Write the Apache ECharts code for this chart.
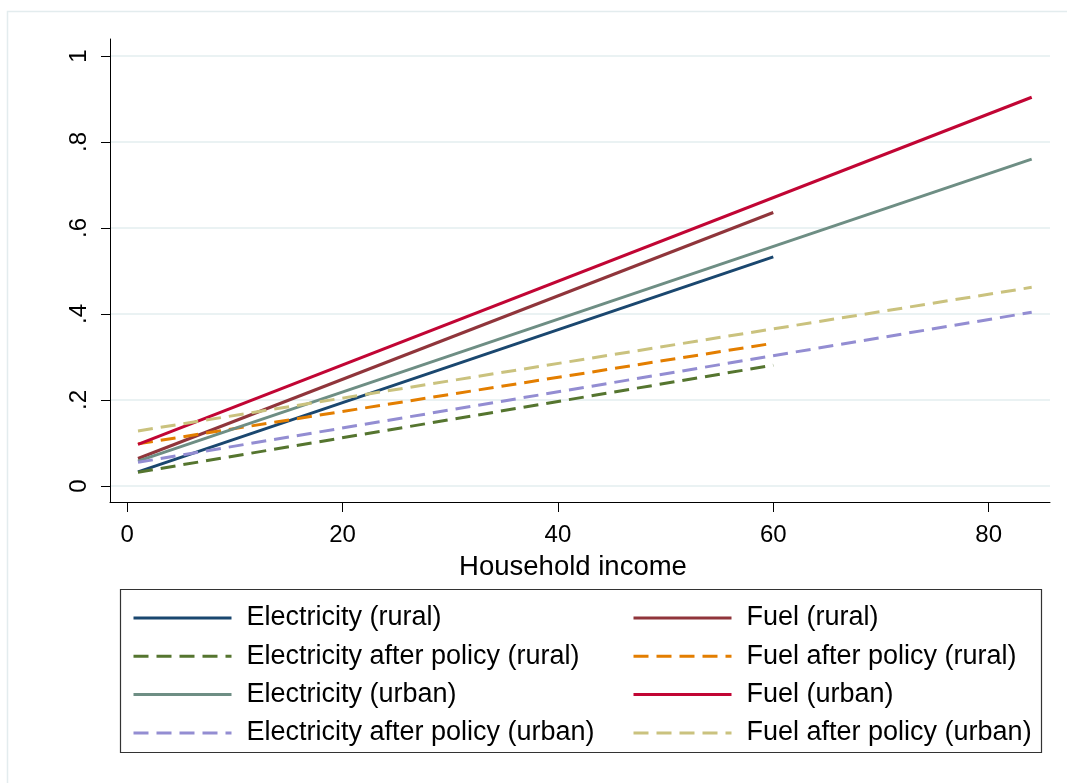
<!DOCTYPE html>
<html>
<head>
<meta charset="utf-8">
<script src="https://cdn.jsdelivr.net/npm/echarts@6/dist/echarts.min.js"></script>
<style>
  html, body { margin: 0; padding: 0; background: #ffffff; }
  #chart { width: 1067px; height: 783px; }
</style>
</head>
<body>
<div id="chart"></div>
<script>
// Predicted shares by household income; each line is a straight fit between its end points.
const incomeRural = [1, 60];
const incomeUrban = [1, 84];

const elecRural = [0.033, 0.533];
const elecPolicyRural = [0.032, 0.281];
const elecUrban = [0.058, 0.760];
const elecPolicyUrban = [0.055, 0.404];
const fuelRural = [0.064, 0.636];
const fuelPolicyRural = [0.098, 0.332];
const fuelUrban = [0.097, 0.904];
const fuelPolicyUrban = [0.128, 0.462];

const xTickValues = [0, 20, 40, 60, 80];
const xTickLabels = ['0', '20', '40', '60', '80'];
const yTickValues = [0, 0.2, 0.4, 0.6, 0.8, 1];
const yTickLabels = ['0', '.2', '.4', '.6', '.8', '1'];

const seriesNames = [
  'Electricity (rural)', 'Fuel (rural)',
  'Electricity after policy (rural)', 'Fuel after policy (rural)',
  'Electricity (urban)', 'Fuel (urban)',
  'Electricity after policy (urban)', 'Fuel after policy (urban)'
];

function pairs(xs, ys) { return xs.map((x, i) => [x, ys[i]]); }

const FONT = '"Liberation Sans", Arial, sans-serif';
const DASH = [15, 8];

const defs = [
  { name: seriesNames[0], x: incomeRural, y: elecRural, color: '#1a476f', dash: false },
  { name: seriesNames[1], x: incomeRural, y: fuelRural, color: '#90353b', dash: false },
  { name: seriesNames[2], x: incomeRural, y: elecPolicyRural, color: '#55752f', dash: true },
  { name: seriesNames[3], x: incomeRural, y: fuelPolicyRural, color: '#e37e00', dash: true },
  { name: seriesNames[4], x: incomeUrban, y: elecUrban, color: '#6e8e84', dash: false },
  { name: seriesNames[5], x: incomeUrban, y: fuelUrban, color: '#c10534', dash: false },
  { name: seriesNames[6], x: incomeUrban, y: elecPolicyUrban, color: '#938dd2', dash: true },
  { name: seriesNames[7], x: incomeUrban, y: fuelPolicyUrban, color: '#cac27e', dash: true }
];

const series = defs.map(d => ({
  name: d.name,
  type: 'line',
  data: pairs(d.x, d.y),
  symbol: 'none',
  animation: false,
  color: d.color,
  lineStyle: { color: d.color, width: 3, type: d.dash ? DASH : 'solid' }
}));

// Legend keys show only the line sample, no marker.
const legendCommon = {
  orient: 'vertical',
  padding: 0,
  itemWidth: 98,
  itemHeight: 28,
  itemGap: 10.3,
  itemStyle: { opacity: 0 },
  lineStyle: { width: 3 },
  textStyle: { fontFamily: FONT, fontSize: 27, color: '#000', lineHeight: 28, padding: [0, 0, 0, 10] }
};

const chart = echarts.init(document.getElementById('chart'), null, { renderer: 'canvas' });
chart.setOption({
  backgroundColor: '#ffffff',
  animation: false,
  grid: { left: 110, right: 17, top: 39, bottom: 281, containLabel: false },
  xAxis: {
    type: 'value',
    min: -1.6,
    max: 85.7,
    axisLine: { show: true, onZero: false, lineStyle: { color: '#000', width: 1 } },
    axisTick: { show: true, length: 10, customValues: xTickValues, lineStyle: { color: '#000' } },
    axisLabel: {
      customValues: xTickValues,
      margin: 21,
      fontFamily: FONT, fontSize: 24, color: '#000',
      formatter: v => xTickLabels[xTickValues.indexOf(v)]
    },
    splitLine: { show: false },
    name: 'Household income',
    nameLocation: 'middle',
    nameGap: 51,
    nameTextStyle: { fontFamily: FONT, fontSize: 27.5, color: '#000', padding: [0, 14, 0, 0] }
  },
  yAxis: {
    type: 'value',
    min: -0.0372,
    max: 1.0395,
    axisLine: { show: true, onZero: false, lineStyle: { color: '#000', width: 1 } },
    axisTick: { show: true, length: 9, customValues: yTickValues, lineStyle: { color: '#000' } },
    axisLabel: {
      customValues: yTickValues,
      rotate: 90,
      margin: 19,
      fontFamily: FONT, fontSize: 24, color: '#000',
      formatter: v => yTickLabels[yTickValues.findIndex(t => Math.abs(t - v) < 1e-9)]
    },
    splitLine: { show: true, lineStyle: { color: '#eaf2f3', width: 2 } }
  },
  legend: [
    Object.assign({}, legendCommon, {
      left: 132, top: 604,
      data: [seriesNames[0], seriesNames[2], seriesNames[4], seriesNames[6]]
    }),
    Object.assign({}, legendCommon, {
      left: 632, top: 604,
      data: [seriesNames[1], seriesNames[3], seriesNames[5], seriesNames[7]]
    })
  ],
  graphic: [
    {
      type: 'rect', silent: true, z: -10,
      shape: { x: 7.5, y: 11.5, width: 1200, height: 900 },
      style: { fill: null, stroke: '#e3ecee', lineWidth: 1.5 }
    },
    {
      type: 'rect', silent: true,
      shape: { x: 120.5, y: 589.5, width: 921, height: 163 },
      style: { fill: null, stroke: '#333333', lineWidth: 1.2 }
    }
  ],
  series: series
});
</script>
</body>
</html>
